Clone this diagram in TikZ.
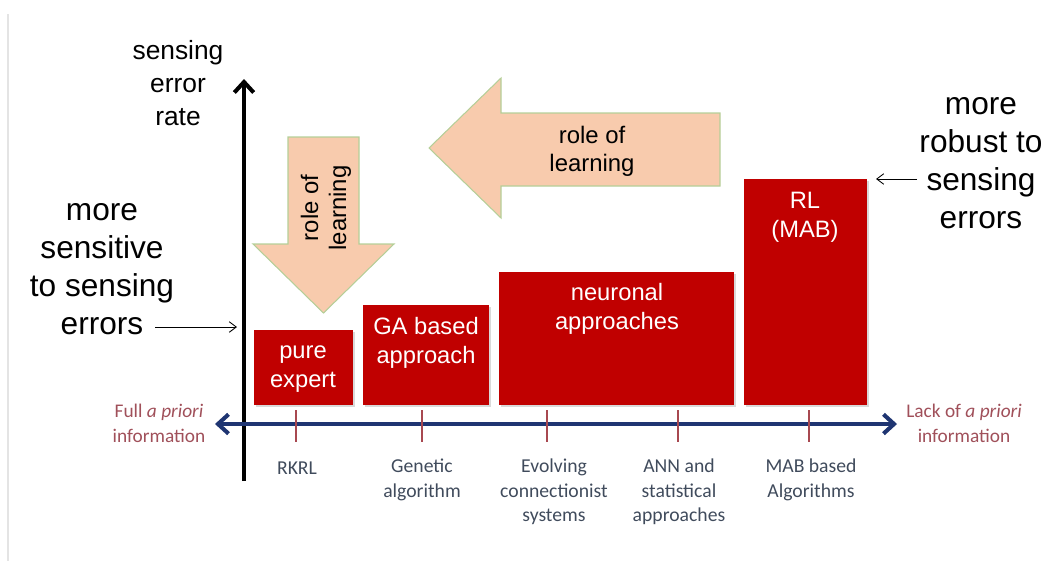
\documentclass[tikz,border=0pt]{standalone}
\usepackage{fontspec}
\setmainfont{Liberation Sans}
\newfontfamily\calibrifont{Carlito}
\usetikzlibrary{arrows.meta,positioning,fit,shadows}
\definecolor{boxred}{HTML}{C00000}
\definecolor{axisblue}{HTML}{1F3572}
\definecolor{tickred}{HTML}{A84850}
\definecolor{priorired}{HTML}{A0505A}
\definecolor{labelgray}{HTML}{404B5C}
\definecolor{peach}{HTML}{F8CBAD}
\definecolor{peachline}{HTML}{B5CF98}
\definecolor{framegray}{HTML}{E4E4E4}

\begin{document}
\begin{tikzpicture}[
      x=0.02cm, y=-0.02cm, % 1 unit = 1 pixel of the reference, y grows downwards
      redbox/.style={fill=boxred, draw=none, inner sep=0pt,
        drop shadow={shadow xshift=1pt, shadow yshift=-1pt, opacity=0.3}},
      boxtext/.style={text=white, align=center, inner sep=0pt, font=\fontsize{13.5}{16.5}\selectfont},
      bigtext/.style={align=center, inner sep=0pt, font=\fontsize{18}{21.6}\selectfont},
      learnarrow/.style={fill=peach, draw=peachline, line width=0.6pt},
      learntext/.style={align=center, inner sep=0pt, font=\fontsize{13.6}{16}\selectfont},
      ticklabel/.style={text=labelgray, align=center, inner sep=0pt, font=\calibrifont\fontsize{11.2}{14}\selectfont},
      priori/.style={text=priorired, align=center, inner sep=0pt, font=\calibrifont\fontsize{11}{14.2}\selectfont},
      tick/.style={draw=tickred, line width=1.1pt},
      thinarrow/.style={line width=0.5pt, -{Straight Barb[length=4pt,width=6pt]}}
    ]
\useasboundingbox (0,0) rectangle (1064,561);
\draw[framegray, line width=0.8pt] (8,14) -- (8,561);

% learning arrows (behind everything)
\draw[learnarrow] (720,113) -- (501,113) -- (501,78) -- (429,148) -- (501,218)
  -- (501,186) -- (720,186) -- cycle;
\node[learntext] (learnH) at (592,151) {role of\\learning};
\draw[learnarrow] (288,137) -- (359,137) -- (359,244) -- (394,244) -- (323.5,313)
  -- (253,244) -- (288,244) -- cycle;
\node[learntext, rotate=90] (learnV) at (326,208) {role of\\learning};

% vertical axis
\coordinate (yBot) at (244,481);
\coordinate (yTop) at (244,79);
\draw[line width=2.3pt, -{Straight Barb[length=6pt,width=11pt]}] (yBot) -- (yTop);
\node[align=center, inner sep=0pt, font=\fontsize{15}{18.8}\selectfont] (ylabel) at (178,83)
  {sensing\\error\\rate};

% boxes
\node[redbox, fit={(254,330) (353,405)}] (pure) {};
\node[redbox, fit={(363,305) (489,405)}] (ga) {};
\node[redbox, fit={(499,272) (734,405)}] (neuro) {};
\node[redbox, fit={(744,179) (867,405)}] (rl) {};
\node[boxtext] (pureT) at (303,369) {pure\\expert};
\node[boxtext] (gaT) at (426,343) {GA based\\approach};
\node[boxtext] (neuroT) at (617,309) {neuronal\\approaches};
\node[boxtext] (rlT) at (805,217) {RL\\(MAB)};

% horizontal axis
\coordinate (xLeft) at (215,424);
\coordinate (xRight) at (897,424);
\draw[axisblue, line width=2.3pt, {Straight Barb[length=6pt,width=11pt]}-{Straight Barb[length=6pt,width=11pt]}]
  (xLeft) -- (xRight);
\foreach \tx in {296,422,547,678,809}
  \draw[tick] (\tx,410) -- (\tx,442);
\node[ticklabel] (rkrl) at (297,468) {RKRL};
\node[ticklabel] (genetic) at (422,480) {Genetic\\algorithm};
\node[ticklabel] (evolving) at (554,492) {Evolving\\connectionist\\systems};
\node[ticklabel] (ann) at (679,492) {ANN and\\statistical\\approaches};
\node[ticklabel] (mab) at (811,480) {MAB based\\Algorithms};
\node[priori] (full) at (159,423) {Full \textit{a priori}\\information};
\node[priori] (lack) at (964,423) {Lack of \textit{a priori}\\information};

% side remarks
\node[bigtext] (sensitive) at (102,269) {more\\sensitive\\to sensing\\errors};
\coordinate (sensFrom) at (155,327);
\coordinate (sensTo) at (237,327);
\draw[thinarrow] (sensFrom) -- (sensTo);
\node[bigtext] (robust) at (981,163) {more\\robust to\\sensing\\errors};
\coordinate (robFrom) at (917,179);
\coordinate (robTo) at (876,179);
\draw[thinarrow] (robFrom) -- (robTo);
\end{tikzpicture}
\end{document}
